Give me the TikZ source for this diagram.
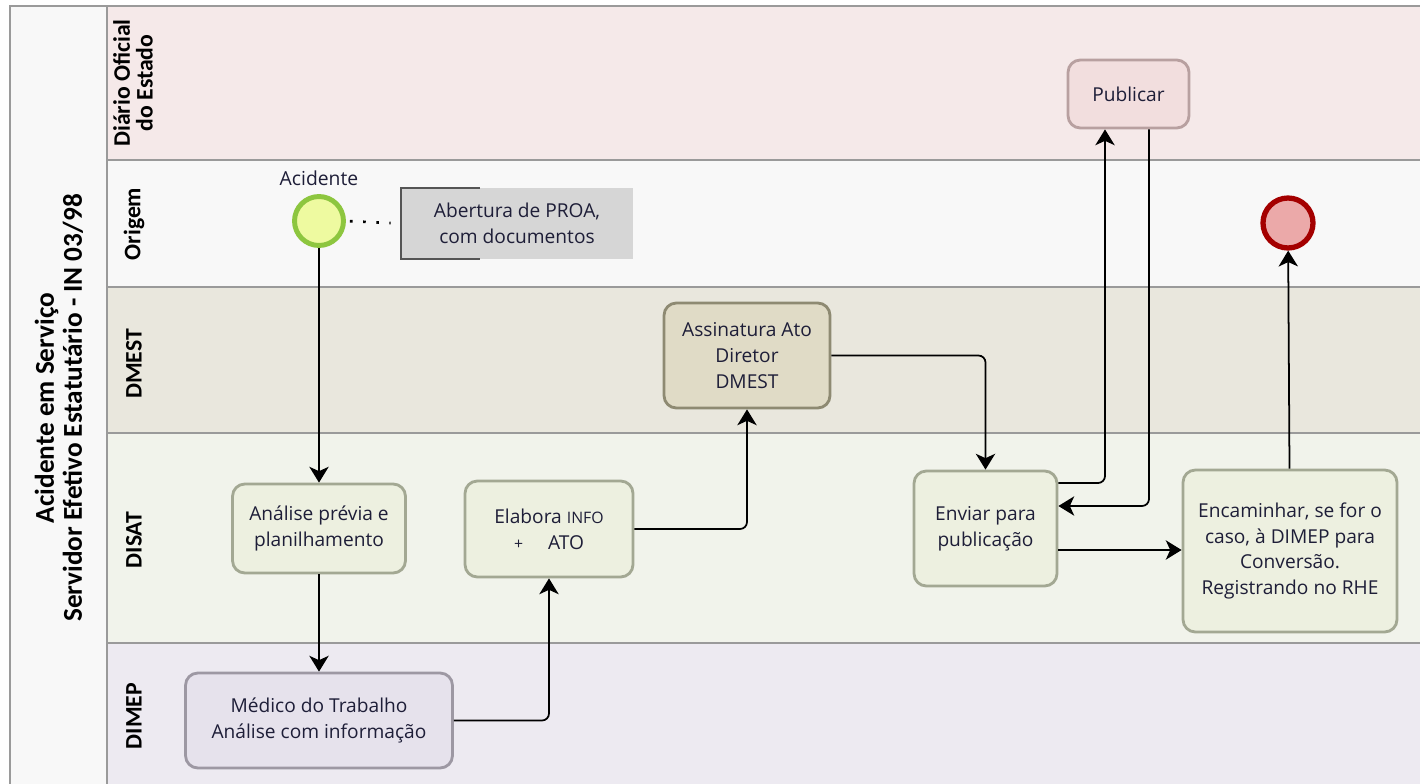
\documentclass[tikz,border=0pt]{standalone}
\usepackage{fontspec}
\setmainfont{Open Sans}
\newfontfamily\hdrfont{Carlito}
\usepackage{tikz}
\usetikzlibrary{positioning,arrows.meta}

\definecolor{lnTitle}{HTML}{F8F8F8}
\definecolor{lnDiario}{HTML}{F5E9E9}
\definecolor{lnOrigem}{HTML}{F8F8F8}
\definecolor{lnDmest}{HTML}{E9E7DD}
\definecolor{lnDisat}{HTML}{F1F3EB}
\definecolor{lnDimep}{HTML}{EDEAF1}
\definecolor{laneGray}{HTML}{9A9A9A}
\definecolor{txtDark}{HTML}{1E1E38}
\definecolor{pubFill}{HTML}{F2DEDE}
\definecolor{pubLine}{HTML}{B8A0A0}
\definecolor{dmestFill}{HTML}{E0DBC6}
\definecolor{dmestLine}{HTML}{8E8A72}
\definecolor{disatFill}{HTML}{EDF0E0}
\definecolor{disatLine}{HTML}{A3A893}
\definecolor{dimepFill}{HTML}{E6E2EC}
\definecolor{dimepLine}{HTML}{9D98A3}
\definecolor{startFill}{HTML}{EEFAA0}
\definecolor{startLine}{HTML}{8DC63F}
\definecolor{endFill}{HTML}{EBA9A9}
\definecolor{endLine}{HTML}{A40000}
\definecolor{noteFill}{HTML}{D6D6D6}
\definecolor{noteLine}{HTML}{555555}

\begin{document}
\begin{tikzpicture}[
  x=0.02cm, y=-0.02cm,
  every node/.style={text=txtDark},
  task/.style={draw,rounded corners=7pt,line width=1.6pt,align=center,font=\fontsize{10.9}{14.7}\selectfont},
  flow/.style={draw=black,-{Stealth[length=9pt,width=11pt,inset=2.5pt]},line width=1pt,rounded corners=4pt},
  lanelabel/.style={rotate=90,align=center,font=\hdrfont\bfseries\fontsize{13.5}{13}\selectfont,text=black},
  laneline/.style={draw=laneGray,line width=0.8pt}
]
\useasboundingbox (0,0) rectangle (1420,784);
\fill[white] (0,0) rectangle (1420,784);
\fill[lnTitle] (10,6) rectangle (107,784);
\fill[lnDiario] (107,6) rectangle (1420,160);
\fill[lnOrigem] (107,160) rectangle (1420,287);
\fill[lnDmest] (107,287) rectangle (1420,433);
\fill[lnDisat] (107,433) rectangle (1420,643);
\fill[lnDimep] (107,643) rectangle (1420,784);
\draw[laneline] (1420,6) -- (10,6) -- (10,784);
\draw[laneline] (107,6) -- (107,784);
\foreach \y in {160,287,433,643}
  \draw[laneline] (107,\y) -- (1420,\y);

\node[rotate=90,align=center,text=black,font=\hdrfont\bfseries\fontsize{15.5}{16}\selectfont] (titulo) at (59,408)
  {Acidente em Serviço\\Servidor Efetivo Estatutário - IN 03/98};
\node[lanelabel] (lbDiario) at (133,83) {Diário Oficial\\do Estado};
\node[lanelabel] (lbOrigem) at (134,224) {Origem};
\node[lanelabel] (lbDmest) at (134,364) {DMEST};
\node[lanelabel] (lbDisat) at (134,540) {DISAT};
\node[lanelabel] (lbDimep) at (134,716) {DIMEP};

\node[circle,draw=startLine,fill=startFill,line width=2.8pt,minimum size=0.98cm] (acidente) at (319,221) {};
\node[above=0.04cm of acidente,font=\fontsize{11}{13}\selectfont] (lbAcidente) {Acidente};
\node[fill=noteFill,minimum width=4.64cm,minimum height=1.42cm,align=center,font=\fontsize{10.9}{14.7}\selectfont] (proa) at (517,223.5)
  {Abertura de PROA,\\ com documentos};
\draw[draw=noteLine,line width=1pt] ([xshift=1.58cm]proa.north west) -- (proa.north west) -- (proa.south west) -- ([xshift=1.58cm]proa.south west);
\draw[line width=1.5pt,dash pattern=on 1.5pt off 6pt,shorten <=0.08cm,shorten >=0.2cm] (acidente.east) -- (proa.west);

\node[circle,draw=endLine,fill=endFill,line width=3pt,minimum size=1.0cm] (fim) at (1288,223) {};

\node[task,draw=pubLine,fill=pubFill,minimum width=2.42cm,minimum height=1.36cm] (publicar) at (1128.5,94) {Publicar};
\node[task,draw=dmestLine,fill=dmestFill,minimum width=3.32cm,minimum height=2.1cm] (assinatura) at (747,355.5) {Assinatura Ato\\Diretor\\DMEST};
\node[task,draw=disatLine,fill=disatFill,minimum width=3.46cm,minimum height=1.78cm] (analise) at (319,528.5) {Análise prévia e\\planilhamento};
\node[task,draw=disatLine,fill=disatFill,minimum width=3.36cm,minimum height=1.92cm] (elabora) at (549,529)
  {Elabora {\fontsize{9}{10}\selectfont INFO}\\{\fontsize{9}{10}\selectfont +}\hspace{1.3em}ATO};
\node[task,draw=disatLine,fill=disatFill,minimum width=2.86cm,minimum height=2.3cm] (enviar) at (985.5,528.5) {Enviar para\\publicação};
\node[task,draw=disatLine,fill=disatFill,minimum width=4.28cm,minimum height=3.24cm] (encaminhar) at (1290,551)
  {Encaminhar, se for o\\caso, à DIMEP para\\Conversão.\\Registrando no RHE};
\node[task,draw=dimepLine,fill=dimepFill,minimum width=5.34cm,minimum height=1.9cm] (medico) at (319,720.5) {Médico do Trabalho\\Análise com informação};

\draw[flow] (acidente) -- (analise);
\draw[flow] (analise) -- (medico);
\draw[flow] (medico.east) -| (elabora.south);
\draw[flow] (elabora.east) -| (assinatura.south);
\draw[flow] (assinatura.east) -| (enviar.north);
\draw[flow] ([yshift=0.91cm]enviar.east) -| ([xshift=-0.47cm]publicar.south);
\draw[flow] ([xshift=0.41cm]publicar.south) |- ([yshift=0.45cm]enviar.east);
\draw[flow] ([yshift=-0.43cm]enviar.east) -- ([yshift=-0.43cm]enviar.east -| encaminhar.west);
\draw[flow] (encaminhar) -- (fim);
\end{tikzpicture}
\end{document}
